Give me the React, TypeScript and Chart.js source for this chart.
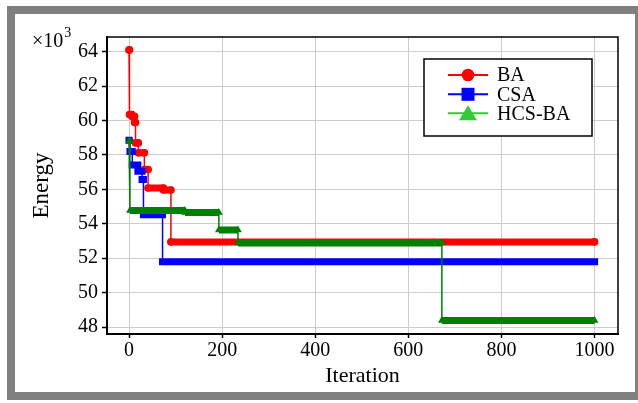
import React, { useEffect, useRef } from "react";
import { Chart, registerables } from "chart.js";

Chart.register(...registerables);

// ---- data (energy in units of 10^3) ----
const seriesNames = ["BA", "CSA", "HCS-BA"];
const baIter = [0, 1, 6, 12, 14, 20, 33, 41, 74, 90];
const baEnergy = [64.1, 60.35, 60.25, 59.88, 58.7, 58.12, 57.15, 56.08, 55.96, 52.95];
const csaIter = [0, 2, 7, 19, 28, 31, 72];
const csaEnergy = [58.85, 58.2, 57.42, 57.05, 56.57, 54.53, 51.8];
const hcsIter = [0, 2, 120, 193, 234, 672];
const hcsEnergy = [58.8, 54.78, 54.66, 53.64, 52.88, 48.38];
const lastIter = 1000;

const xTicks = [0, 200, 400, 600, 800, 1000];
const yTicks = [48, 50, 52, 54, 56, 58, 60, 62, 64];
const xMin = -47.3;
const xMax = 1050.3;
const yMin = 47.6;
const yMax = 64.85;

const FONT = "'Liberation Serif', 'Times New Roman', serif";

const lineColors = ["#ff0000", "#0000ff", "#008000"];
const legendColors = ["#ff0000", "#0000ff", "#32cd32"];
const markerStyles = ["circle", "rect", "triangle"];

function stepLine(iters: number[], vals: number[]) {
  const pts: { x: number; y: number | null }[] = [];
  for (let i = 0; i < iters.length; i++) {
    const next = i + 1 < iters.length ? iters[i + 1] : lastIter;
    pts.push({ x: iters[i], y: vals[i] });
    pts.push({ x: next, y: vals[i] });
  }
  return pts;
}

function stepBands(iters: number[], vals: number[]) {
  const pts: { x: number; y: number | null }[] = [];
  for (let i = 0; i < iters.length; i++) {
    const next = i + 1 < iters.length ? iters[i + 1] : lastIter;
    pts.push({ x: iters[i], y: vals[i] });
    pts.push({ x: next, y: vals[i] });
    pts.push({ x: next, y: null });
  }
  return pts;
}

const decor = {
  id: "decor",
  afterDraw(chart: any) {
    const { ctx, chartArea: a } = chart;
    ctx.save();
    ctx.strokeStyle = "#000";
    ctx.lineWidth = 1.5;
    ctx.strokeRect(a.left, a.top, a.right - a.left, a.bottom - a.top);

    // multiplier label
    ctx.fillStyle = "#000";
    ctx.textAlign = "left";
    ctx.textBaseline = "alphabetic";
    ctx.font = `20px ${FONT}`;
    ctx.fillText("×10", 17, 33);
    const w = ctx.measureText("×10").width;
    ctx.font = `14px ${FONT}`;
    ctx.fillText("3", 17 + w + 1, 23);

    // legend
    const bx = a.right - 194;
    const by = a.top + 22;
    const bw = 168;
    const bh = 77;
    ctx.fillStyle = "#fff";
    ctx.fillRect(bx, by, bw, bh);
    ctx.strokeStyle = "#000";
    ctx.lineWidth = 1.5;
    ctx.strokeRect(bx, by, bw, bh);
    const rowY = [16, 35.3, 54.3];
    seriesNames.forEach((name, i) => {
      const cy = by + rowY[i];
      const c = legendColors[i];
      ctx.strokeStyle = c;
      ctx.fillStyle = c;
      ctx.lineWidth = 2;
      ctx.beginPath();
      ctx.moveTo(bx + 24, cy);
      ctx.lineTo(bx + 64, cy);
      ctx.stroke();
      const mx = bx + 44;
      ctx.beginPath();
      if (i === 0) {
        ctx.arc(mx, cy, 6.3, 0, Math.PI * 2);
        ctx.fill();
      } else if (i === 1) {
        ctx.fillRect(mx - 6.5, cy - 6.5, 13, 13);
      } else {
        ctx.moveTo(mx, cy - 8);
        ctx.lineTo(mx + 9, cy + 7);
        ctx.lineTo(mx - 9, cy + 7);
        ctx.closePath();
        ctx.fill();
      }
      ctx.fillStyle = "#000";
      ctx.font = `20px ${FONT}`;
      ctx.textBaseline = "middle";
      ctx.fillText(name, bx + 73, cy + 1);
    });
    ctx.restore();
  },
};

export default function App() {
  const ref = useRef<HTMLCanvasElement | null>(null);

  useEffect(() => {
    if (!ref.current) return;
    const all = [
      { it: hcsIter, v: hcsEnergy, idx: 2, cap: "butt", r: 4.5 },
      { it: csaIter, v: csaEnergy, idx: 1, cap: "square", r: 3.8 },
      { it: baIter, v: baEnergy, idx: 0, cap: "round", r: 3.8 },
    ];
    const datasets: any[] = [];
    all.forEach((s, k) => {
      datasets.push({
        label: seriesNames[s.idx] + " markers",
        data: stepBands(s.it, s.v),
        borderColor: lineColors[s.idx],
        backgroundColor: lineColors[s.idx],
        borderWidth: 7,
        borderCapStyle: s.cap,
        spanGaps: false,
        pointStyle: markerStyles[s.idx],
        pointRadius: s.r,
        pointBorderWidth: 0,
        pointBackgroundColor: lineColors[s.idx],
        order: k * 2,
      });
      datasets.push({
        label: seriesNames[s.idx],
        data: stepLine(s.it, s.v),
        borderColor: lineColors[s.idx],
        borderWidth: 1.5,
        pointRadius: 0,
        order: k * 2 + 1,
      });
    });

    const chart = new Chart(ref.current, {
      type: "line",
      data: { datasets },
      options: {
        animation: false,
        responsive: false,
        parsing: false,
        normalized: true,
        layout: { padding: { top: 23, right: 17, left: 0, bottom: 0 } },
        plugins: { legend: { display: false }, tooltip: { enabled: false } },
        elements: { line: { tension: 0 } },
        scales: {
          x: {
            type: "linear",
            min: xMin,
            max: xMax,
            afterBuildTicks: (scale: any) => {
              scale.ticks = xTicks.map((v) => ({ value: v }));
            },
            afterFit: (scale: any) => {
              scale.height = 58;
            },
            grid: {
              color: "#cccccc",
              lineWidth: 1,
              tickColor: "#000",
              tickLength: 4,
              tickWidth: 1.5,
            },
            border: { color: "#000", width: 2 },
            ticks: {
              color: "#000",
              font: { family: FONT, size: 20 },
              padding: 1,
              maxRotation: 0,
              callback: (v: any) => String(v),
            },
            title: {
              display: true,
              text: "Iteration",
              color: "#000",
              font: { family: FONT, size: 22 },
              padding: { top: 0, bottom: 3 },
            },
          },
          y: {
            type: "linear",
            min: yMin,
            max: yMax,
            afterBuildTicks: (scale: any) => {
              scale.ticks = yTicks.map((v) => ({ value: v }));
            },
            afterFit: (scale: any) => {
              scale.width = 92;
            },
            grid: {
              color: "#cccccc",
              lineWidth: 1,
              tickColor: "#000",
              tickLength: 5,
              tickWidth: 1.5,
            },
            border: { color: "#000", width: 2 },
            ticks: {
              color: "#000",
              font: { family: FONT, size: 20 },
              padding: 4,
              callback: (v: any) => String(v),
            },
            title: {
              display: true,
              text: "Energy",
              color: "#000",
              font: { family: FONT, size: 23 },
              padding: { top: 13, bottom: 0 },
            },
          },
        },
      },
      plugins: [decor],
    });
    return () => chart.destroy();
  }, []);

  return (
    <div
      style={{
        position: "fixed",
        left: 7,
        top: 6,
        width: 631,
        height: 394,
        boxSizing: "border-box",
        borderStyle: "solid",
        borderColor: "#808080",
        borderWidth: "8px 3px 8px 8px",
        background: "#fff",
      }}
    >
      <canvas ref={ref} width={620} height={378} style={{ display: "block" }} />
    </div>
  );
}
